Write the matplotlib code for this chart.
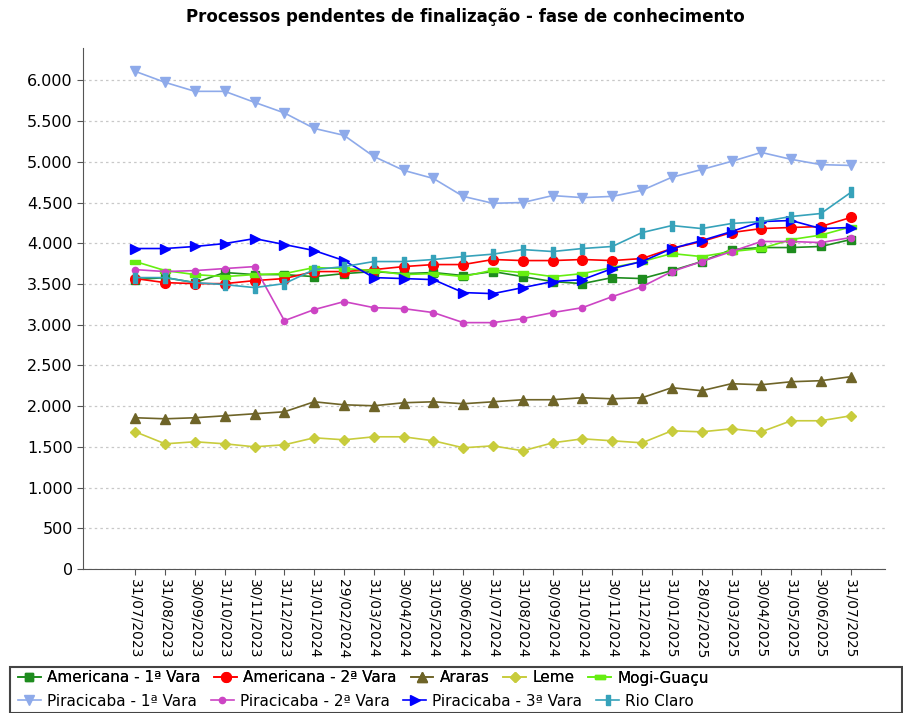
import matplotlib.pyplot as plt
from matplotlib.patches import Rectangle
from matplotlib.ticker import FuncFormatter

datas = ["31/07/2023", "31/08/2023", "30/09/2023", "31/10/2023", "30/11/2023", "31/12/2023",
         "31/01/2024", "29/02/2024", "31/03/2024", "30/04/2024", "31/05/2024", "30/06/2024",
         "31/07/2024", "31/08/2024", "30/09/2024", "31/10/2024", "30/11/2024", "31/12/2024",
         "31/01/2025", "28/02/2025", "31/03/2025", "30/04/2025", "31/05/2025", "30/06/2025",
         "31/07/2025"]

americana_1 = [3553, 3578, 3516, 3640, 3615, 3615, 3590, 3627, 3652, 3627, 3640, 3603, 3652,
               3590, 3529, 3504, 3578, 3566, 3664, 3775, 3922, 3947, 3947, 3960, 4045]
americana_2 = [3566, 3516, 3504, 3504, 3541, 3566, 3652, 3652, 3676, 3713, 3738, 3738, 3800,
               3787, 3787, 3800, 3787, 3812, 3935, 4021, 4131, 4180, 4193, 4205, 4316]
araras = [1857, 1844, 1857, 1881, 1906, 1930, 2053, 2016, 2004, 2041, 2053, 2029, 2053,
          2078, 2078, 2103, 2090, 2103, 2226, 2189, 2275, 2262, 2299, 2312, 2361]
leme = [1684, 1537, 1562, 1537, 1500, 1525, 1611, 1586, 1623, 1623, 1574, 1488, 1512,
        1451, 1549, 1598, 1574, 1549, 1697, 1684, 1721, 1684, 1820, 1820, 1881]
mogi_guacu = [3775, 3664, 3615, 3590, 3615, 3627, 3701, 3689, 3664, 3615, 3627, 3590, 3670,
              3640, 3590, 3627, 3701, 3775, 3873, 3836, 3898, 3935, 4045, 4100, 4200]
piracicaba_1 = [6110, 5975, 5865, 5865, 5730, 5600, 5410, 5325, 5065, 4895, 4795, 4575, 4490,
                4500, 4585, 4560, 4575, 4650, 4810, 4905, 5005, 5115, 5030, 4965, 4955]
piracicaba_2 = [3676, 3652, 3664, 3689, 3713, 3049, 3185, 3283, 3209, 3197, 3148, 3025, 3025,
                3074, 3148, 3209, 3344, 3467, 3652, 3775, 3898, 4021, 4021, 4008, 4070]
piracicaba_3 = [3935, 3935, 3960, 3996, 4057, 3984, 3910, 3787, 3578, 3566, 3553, 3394, 3381,
                3455, 3529, 3553, 3689, 3775, 3935, 4033, 4143, 4266, 4279, 4180, 4193]
rio_claro = [3578, 3578, 3516, 3492, 3455, 3504, 3676, 3713, 3775, 3775, 3800, 3836, 3866,
             3922, 3898, 3935, 3960, 4131, 4217, 4180, 4242, 4266, 4328, 4365, 4623]

nomes = ["Americana - 1ª Vara", "Americana - 2ª Vara", "Araras", "Leme", "Mogi-Guaçu",
         "Piracicaba - 1ª Vara", "Piracicaba - 2ª Vara", "Piracicaba - 3ª Vara", "Rio Claro"]
series = [americana_1, americana_2, araras, leme, mogi_guacu,
          piracicaba_1, piracicaba_2, piracicaba_3, rio_claro]

# shapes for the odd markers
rect_h = [(-1, -0.45), (1, -0.45), (1, 0.45), (-1, 0.45), (-1, -0.45)]
rect_v = [(-0.45, -1), (0.45, -1), (0.45, 1), (-0.45, 1), (-0.45, -1)]

cores = ["#1e8c1e", "#ff0000", "#6e6428", "#c8cc3c", "#66ee11",
         "#8eaaea", "#cc44c4", "#0000ff", "#36a2ba"]
marcadores = ["s", "o", "^", "D", rect_h, "v", "o", ">", rect_v]
tamanhos = [6, 7, 7, 5.5, 6.5, 7, 4.5, 7, 7]

plt.rcParams["font.family"] = "DejaVu Sans"

fig = plt.figure(figsize=(9.04, 7.13), dpi=100)
ax = fig.add_axes([0.092, 0.202, 0.887, 0.731])

x = list(range(len(datas)))
handles = []
for nome, valores, cor, m, ms in zip(nomes, series, cores, marcadores, tamanhos):
    h, = ax.plot(x, valores, color=cor, marker=m, markersize=ms, linewidth=1.2,
                 label=nome, markeredgecolor=cor)
    handles.append(h)

ax.set_xlim(-1.75, 25.15)
ax.set_ylim(0, 6400)
ax.set_yticks(range(0, 6001, 500))
ax.yaxis.set_major_formatter(FuncFormatter(lambda v, p: f"{int(v):,}".replace(",", ".")))
ax.set_xticks(x)
ax.set_xticklabels(datas, rotation=270, fontsize=10)
ax.tick_params(axis="y", labelsize=11.5, length=4, color="#555555")
ax.tick_params(axis="x", length=4, color="#555555")

ax.grid(axis="y", linestyle=(0, (2, 2.5)), color="#c8c8c8", linewidth=0.9)
ax.set_axisbelow(True)
for s in ["top", "right"]:
    ax.spines[s].set_visible(False)
for s in ["left", "bottom"]:
    ax.spines[s].set_color("#555555")

fig.text(465 / 904, 1 - 17 / 713, "Processos pendentes de finalização - fase de conhecimento",
         ha="center", va="center", fontsize=12, fontweight="bold")

# legend box with two flowing rows
fig.patches.append(Rectangle((10 / 904, 0.0), 892 / 904, 46 / 713, transform=fig.transFigure,
                             fill=False, edgecolor="#444444", linewidth=1.5))
kw = dict(frameon=False, fontsize=11, handlelength=1.5, handletextpad=0.4,
          columnspacing=0.9, borderaxespad=0, borderpad=0)
leg1 = fig.legend(handles[:5], nomes[:5], ncol=5, loc="center left",
                  bbox_to_anchor=(18 / 904, 1 - 678 / 713), **kw)
fig.legend(handles[5:], nomes[5:], ncol=4, loc="center left",
           bbox_to_anchor=(18 / 904, 1 - 701 / 713), **kw)
fig.add_artist(leg1)

fig.savefig("out.png", dpi=100)
